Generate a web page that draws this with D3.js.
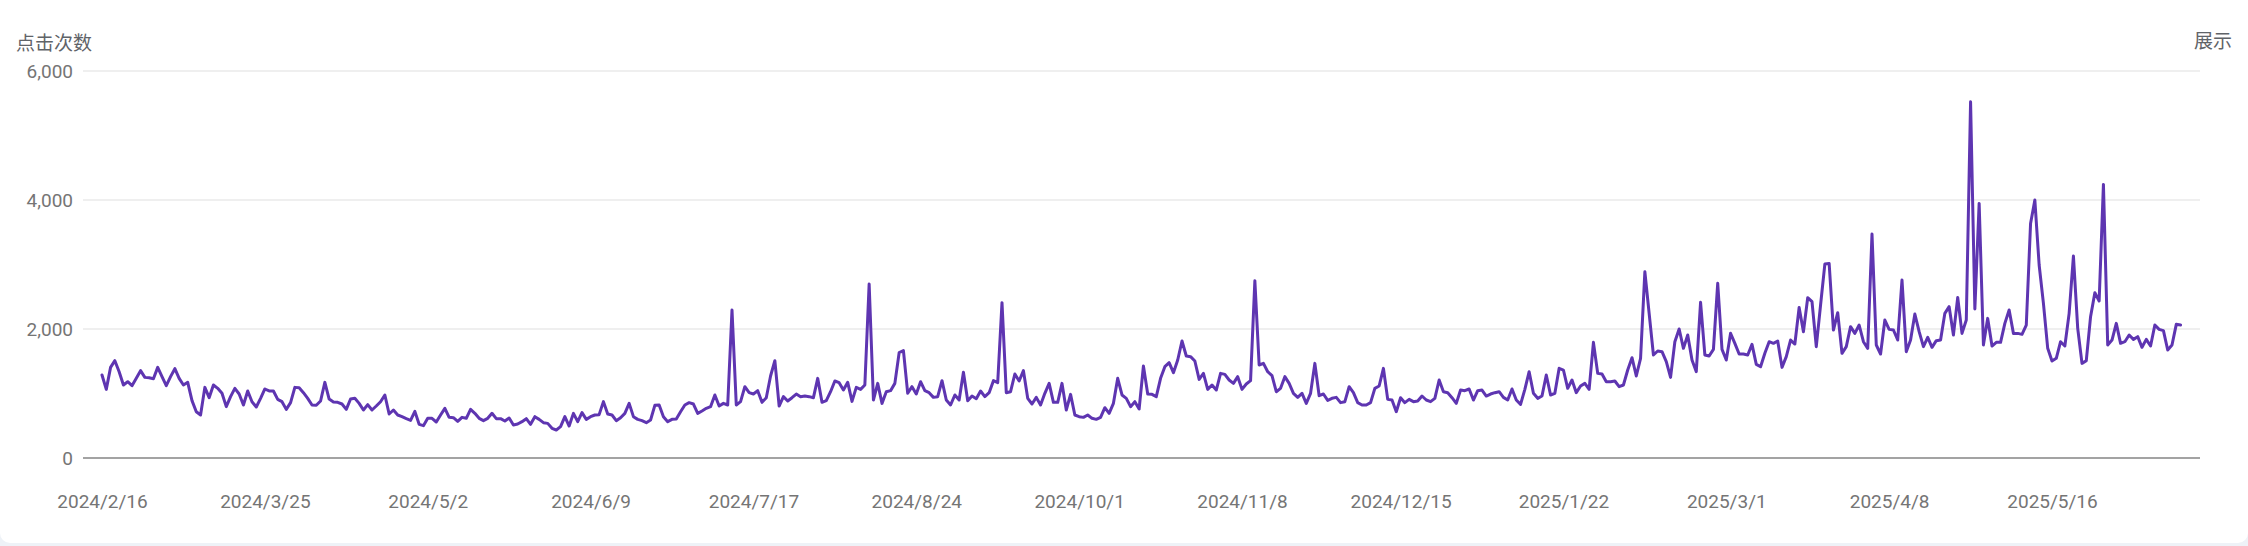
<!DOCTYPE html>
<html>
<head>
<meta charset="utf-8">
<script src="https://cdn.jsdelivr.net/npm/d3@7"></script>
<style>
  html, body { margin: 0; padding: 0; background: #eef2f7; }
  svg { display: block; }
  text { font-family: Roboto, "Noto Sans CJK SC", "Noto Sans", sans-serif; }
</style>
</head>
<body>
<svg id="chart" width="2248" height="546"></svg>
<script>
// ---- data ----
const startDate = "2024-02-16";
const clicks = [
  1287,1064,1405,1509,1338,1132,1183,1121,1235,1354,
  1250,1245,1230,1405,1261,1121,1261,1385,1235,1132,
  1173,889,718,667,1095,935,1132,1080,1003,796,
  951,1080,992,822,1039,873,791,925,1070,1039,
  1039,909,873,754,858,1095,1090,1013,925,822,
  817,884,1173,914,868,863,837,754,914,925,
  847,744,827,744,806,873,977,682,744,667,
  641,610,584,723,522,501,615,615,558,667,
  770,630,625,568,630,615,754,693,615,579,
  615,693,610,610,573,620,512,
  527,563,610,522,641,599,548,537,460,434,
  486,641,496,692,563,703,599,641,667,672,
  874,682,667,579,625,692,847,641,599,579,
  548,589,816,822,641,563,599,605,718,822,
  858,837,692,729,770,796,977,806,847,822,
  2294,822,874,1106,1013,992,1044,863,935,1271,
  1509,806,951,884,935,992,951,961,951,935,
  1235,863,889,1028,1194,1168,1054,1173,878,1095,
  1064,1132,2697,899,1157,847,1028,1044,1157,1633,
  1664,1003,1106,992,1183,1044,
  1013,940,951,1199,899,822,977,899,1328,889,
  961,920,1039,951,1013,1199,1168,2408,1013,1028,
  1302,1194,1354,925,837,940,822,1003,1157,863,
  863,1157,744,987,667,641,630,667,615,599,
  630,780,692,847,1235,977,925,796,873,760,
  1426,992,987,951,1235,1416,1478,1323,1519,1814,
  1581,1571,1504,1219,1312,1064,1132,1054,1312,1297,
  1209,1157,1261,1064,1147,1199,2749,1442,1467,1338,
  1276,1028,1080,1261,1157,1003,940,1003,847,1003,
  1467,966,992,894,925,940,858,
  873,1106,1013,858,822,822,858,1080,1116,1390,
  909,899,718,935,858,909,873,884,961,899,
  873,925,1209,1028,1013,935,847,1054,1044,1070,
  899,1044,1054,961,992,1013,1028,940,899,1070,
  899,832,1064,1338,1003,925,961,1287,977,1003,
  1390,1364,1080,1209,1013,1116,1157,1064,1793,1312,
  1302,1183,1183,1194,1106,1132,1364,1555,1271,1545,
  2888,2242,1597,1659,1648,1493,1250,1803,2000,1700,
  1907,1519,1338,2413,1597,1581,1685,2708,1685,1519,
  1933,1778,1612,1612,1597,1762,1452,
  1416,1623,1803,1778,1814,1405,1571,1829,1767,2335,
  1958,2485,2423,1726,2372,3007,3017,1984,2253,1623,
  1726,2036,1932,2062,1803,1700,3472,1752,1612,2139,
  1994,1984,1829,2759,1648,1829,2232,1958,1726,1870,
  1716,1819,1829,2243,2346,1907,2490,1932,2139,5523,
  2310,3947,1752,2165,1736,1793,1793,2087,2294,1932,
  1932,1917,2062,3637,3999,2992,2397,1700,1504,1545,
  1803,1736,2243,3131,2010,1467,1509,2191,2563,2434,
  4242,1752,1829,2087,1778,1803,1907,1839,1881,1716,
  1839,1736,2062,1994,1974,1674,1752,2072,2062
];
const yTicks = [0, 2000, 4000, 6000];
const xTickDates = ["2024-02-16","2024-03-25","2024-05-02","2024-06-09","2024-07-17","2024-08-24",
  "2024-10-01","2024-11-08","2024-12-15","2025-01-22","2025-03-01","2025-04-08","2025-05-16"];
const leftTitle = "点击次数";
const rightTitle = "展示";

// ---- layout ----
const W = 2248, H = 546;
const plotLeft = 83, plotRight = 2200;
const parse = d3.utcParse("%Y-%m-%d");
const fmtDate = d3.utcFormat("%Y/%-m/%-d");
const fmtNum = d3.format(",");

const start = parse(startDate);
const series = clicks.map((v, i) => ({ date: d3.utcDay.offset(start, i), value: v }));

const x = d3.scaleUtc()
  .domain([parse(xTickDates[0]), parse(xTickDates[xTickDates.length - 1])])
  .range([102, 2052]);
const y = d3.scaleLinear().domain([0, 6000]).range([458, 71]);

const svg = d3.select("#chart");

// card
svg.append("rect").attr("x", 0).attr("y", -20).attr("width", W).attr("height", 563)
  .attr("rx", 10).attr("fill", "#ffffff");

// grid lines
svg.append("g").selectAll("line")
  .data(yTicks.filter(t => t > 0))
  .join("line")
  .attr("x1", plotLeft).attr("x2", plotRight)
  .attr("y1", d => y(d)).attr("y2", d => y(d))
  .attr("stroke", "#efefef").attr("stroke-width", 2);

// baseline
svg.append("line")
  .attr("x1", plotLeft).attr("x2", plotRight)
  .attr("y1", y(0)).attr("y2", y(0))
  .attr("stroke", "#a3a3a3").attr("stroke-width", 2);

// y axis labels
const yAxis = d3.axisLeft(y).tickValues(yTicks).tickFormat(fmtNum).tickSize(0).tickPadding(0);
const gy = svg.append("g").attr("transform", "translate(73,0)").call(yAxis);
gy.select(".domain").remove();
gy.selectAll("text").attr("font-size", 19).attr("fill", "#757575")
  .attr("font-family", "Roboto, sans-serif");

// x axis labels
const xAxis = d3.axisBottom(x).tickValues(xTickDates.map(parse)).tickFormat(fmtDate).tickSize(0).tickPadding(0);
const gx = svg.append("g").attr("transform", "translate(0,494)").call(xAxis);
gx.select(".domain").remove();
gx.selectAll("text").attr("font-size", 19).attr("fill", "#757575")
  .attr("font-family", "Roboto, sans-serif");

// titles
svg.append("text").attr("x", 16).attr("y", 43).attr("dy", "0.35em")
  .attr("font-size", 19).attr("fill", "#5f6368").text(leftTitle);
svg.append("text").attr("x", 2232).attr("y", 41).attr("dy", "0.35em")
  .attr("text-anchor", "end")
  .attr("font-size", 19).attr("fill", "#5f6368").text(rightTitle);

// line
const line = d3.line().x(d => x(d.date)).y(d => y(d.value));
svg.append("path").datum(series)
  .attr("d", line)
  .attr("fill", "none")
  .attr("stroke", "#5e35b1")
  .attr("stroke-width", 3)
  .attr("stroke-linejoin", "round")
  .attr("stroke-linecap", "round");
</script>
</body>
</html>
